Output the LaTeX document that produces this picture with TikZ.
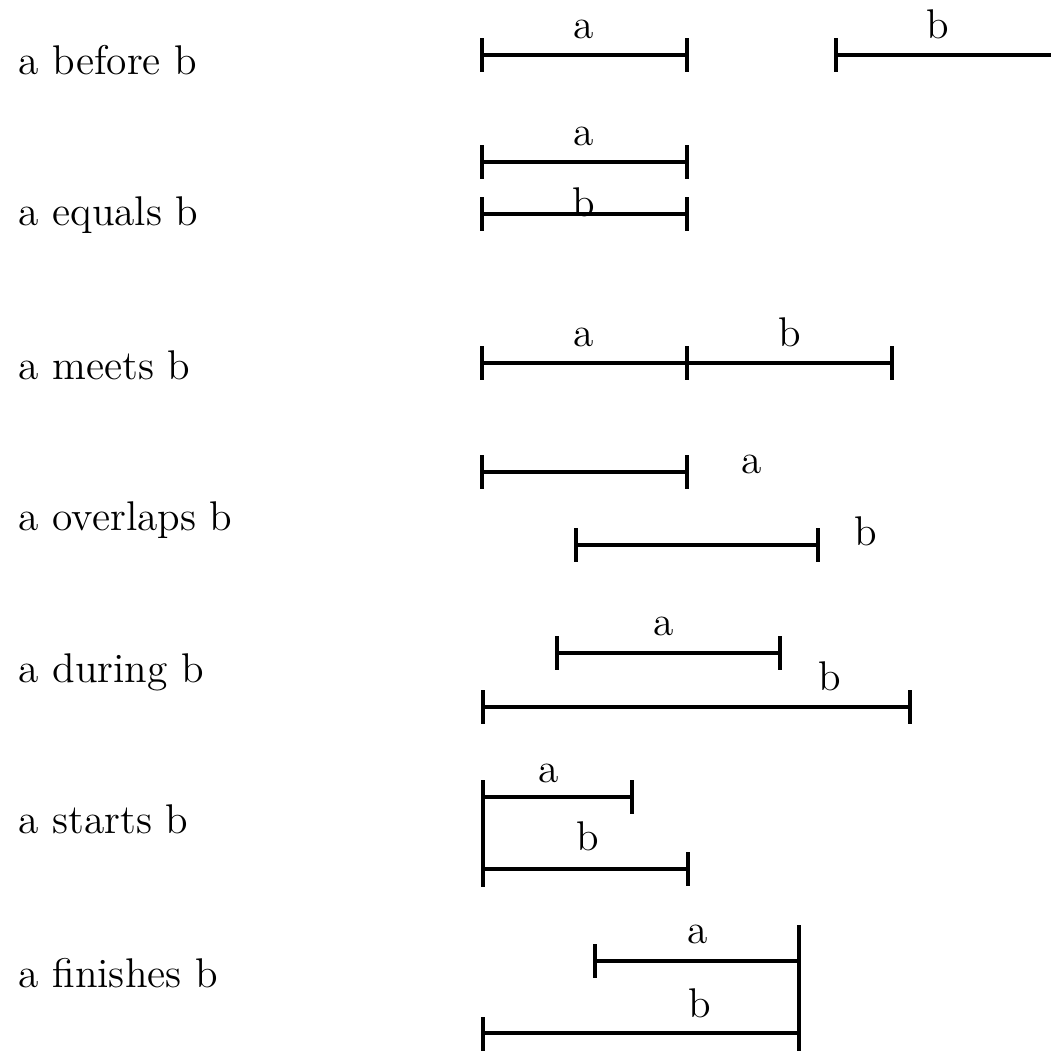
\documentclass[tikz,border=0pt]{standalone}
\usetikzlibrary{positioning,calc}

\newcommand{\ivl}[2]{%
  \draw[bar] (#1) -- (#2);
  \draw[bar] (#1) ++(0,-17) -- ++(0,34);
  \draw[bar] (#2) ++(0,-17) -- ++(0,34);}

\begin{document}
\begin{tikzpicture}[
  x=0.01cm, y=-0.01cm,
  font=\fontsize{11.8}{14}\selectfont,
  bar/.style ={line width=0.9pt},
  rel/.style ={anchor=base west, inner sep=0pt},
  lab/.style ={anchor=base, inner sep=0pt},
]
\useasboundingbox (0,0) rectangle (1051,1050);
% relation names
\node[rel] (before)   at (18, 74)  {a before b};
\node[rel] (equals)   at (18,225)  {a equals b};
\node[rel] (meets)    at (18,379)  {a meets b};
\node[rel] (overlaps) at (18,530)  {a overlaps b};
\node[rel] (during)   at (18,682)  {a during b};
\node[rel] (starts)   at (18,833)  {a starts b};
\node[rel] (finishes) at (18,987)  {a finishes b};
% before
\coordinate (a1s) at (482,55);  \coordinate (a1e) at (687,55);
\coordinate (b1s) at (836,55);  \coordinate (b1e) at (1051,55);
\ivl{a1s}{a1e}
\draw[bar] (b1s) -- (b1e);  \draw[bar] (b1s) ++(0,-17) -- ++(0,34);
\node[lab] (la1) at (584,38) {a};
\node[lab] (lb1) at (938,38) {b};
% equals
\coordinate (a2s) at (482,162); \coordinate (a2e) at (687,162);
\coordinate (b2s) at (482,214); \coordinate (b2e) at (687,214);
\ivl{a2s}{a2e}  \ivl{b2s}{b2e}
\node[lab] (la2) at (584,145) {a};
\node[lab] (lb2) at (584,216) {b};
% meets
\coordinate (a3s) at (482,363); \coordinate (a3e) at (687,363);
\coordinate (b3e) at (892,363);
\ivl{a3s}{a3e}  \ivl{a3e}{b3e}
\node[lab] (la3) at (584,346) {a};
\node[lab] (lb3) at (790,346) {b};
% overlaps
\coordinate (a4s) at (482,472); \coordinate (a4e) at (687,472);
\coordinate (b4s) at (576,545); \coordinate (b4e) at (818,545);
\ivl{a4s}{a4e}  \ivl{b4s}{b4e}
\node[lab] (la4) at (752,473) {a};
\node[lab] (lb4) at (866,545) {b};
% during
\coordinate (a5s) at (557,653); \coordinate (a5e) at (780,653);
\coordinate (b5s) at (483,707); \coordinate (b5e) at (910,707);
\ivl{a5s}{a5e}  \ivl{b5s}{b5e}
\node[lab] (la5) at (664,635) {a};
\node[lab] (lb5) at (830,690) {b};
% starts
\coordinate (a6s) at (483,797); \coordinate (a6e) at (632,797);
\coordinate (b6s) at (483,869); \coordinate (b6e) at (688,869);
\draw[bar] (a6s) -- (a6e);  \draw[bar] (b6s) -- (b6e);
\draw[bar] (a6s) ++(0,-17) -- ($(b6s)+(0,18)$);
\draw[bar] (a6e) ++(0,-17) -- ++(0,34);
\draw[bar] (b6e) ++(0,-17) -- ++(0,34);
\node[lab] (la6) at (549,782) {a};
\node[lab] (lb6) at (588,850) {b};
% finishes
\coordinate (a7s) at (595,961); \coordinate (a7e) at (799,961);
\coordinate (b7s) at (483,1033); \coordinate (b7e) at (799,1033);
\draw[bar] (a7s) -- (a7e);  \draw[bar] (b7s) -- (b7e);
\draw[bar] (a7e) ++(0,-36) -- ($(b7e)+(0,20)$);
\draw[bar] (a7s) ++(0,-17) -- ++(0,34);
\draw[bar] (b7s) ++(0,-16) -- ++(0,36);
\node[lab] (la7) at (698,943) {a};
\node[lab] (lb7) at (700,1017) {b};
\end{tikzpicture}
\end{document}
